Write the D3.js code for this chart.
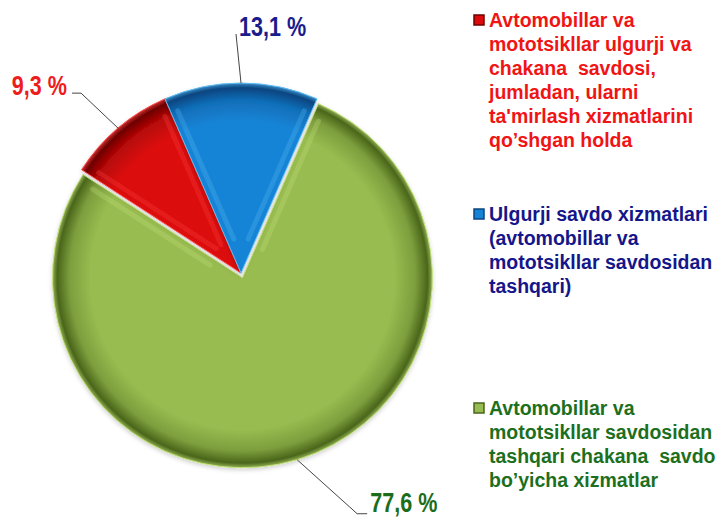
<!DOCTYPE html>
<html>
<head>
<meta charset="utf-8" />
<title>pie</title>
<script src="https://cdn.jsdelivr.net/npm/d3@7"></script>
<style>
  body { margin: 0; background: #fff; }
  svg { display: block; }
  text { white-space: pre; }
</style>
</head>
<body>
<svg width="717" height="520"></svg>
<script>
// data
var categories = [
  "Avtomobillar va mototsikllar savdosidan tashqari chakana savdo bo'yicha xizmatlar",
  "Avtomobillar va mototsikllar ulgurji va chakana savdosi, jumladan, ularni ta'mirlash xizmatlarini qo'shgan holda",
  "Ulgurji savdo xizmatlari (avtomobillar va mototsikllar savdosidan tashqari)"
];
var values = [77.6, 9.3, 13.1];
// legend text, split the same way as the picture
var legendLines = [
  ["Avtomobillar va", "mototsikllar savdosidan", "tashqari chakana  savdo", "bo\u2019yicha xizmatlar"],
  ["Avtomobillar va", "mototsikllar ulgurji va", "chakana  savdosi,", "jumladan, ularni", "ta'mirlash xizmatlarini", "qo\u2019shgan holda"],
  ["Ulgurji savdo xizmatlari", "(avtomobillar va", "mototsikllar savdosidan", "tashqari)"]
];
var legendOrder = [1, 2, 0]; // red, blue, green from top

var colors = {
  base:  ["#98bc50", "#dc0a0a", "#1584d6"],
  light: ["#c4e37c", "#ff4a4a", "#5cbcf4"],
  dark:  ["#4a661a", "#6e0000", "#0a4580"],
  text:  ["#1b6d1b", "#ee1c1c", "#1b1b8c"],
  legend:["#1d6f1d", "#f01414", "#16168a"]
};

var svg = d3.select("svg");
var cx = 241, cy = 273, r = 190, explode = [5, 0, 0];

var total = d3.sum(values);
var start = Math.PI * values[2] / total; // blue centred on the top
var pie = d3.pie().sort(null).value(function(d){ return d; })
  .startAngle(start).endAngle(start + 2 * Math.PI);
var arcs = pie(values);
var arc = d3.arc().innerRadius(0).outerRadius(r);
var rim = d3.arc().innerRadius(r).outerRadius(r);

function mid(d){ return (d.startAngle + d.endAngle) / 2; }
function offset(d, i){
  var a = mid(d);
  return [Math.sin(a) * explode[i], -Math.cos(a) * explode[i]];
}

var defs = svg.append("defs");
arcs.forEach(function(d, i){
  var g = defs.append("radialGradient")
    .attr("id", "grad" + i)
    .attr("gradientUnits", "userSpaceOnUse")
    .attr("cx", 0).attr("cy", 0).attr("r", r);
  g.append("stop").attr("offset", "0").attr("stop-color", colors.base[i]);
  g.append("stop").attr("offset", "0.8").attr("stop-color", colors.base[i]);
  g.append("stop").attr("offset", "0.91").attr("stop-color", d3.interpolateRgb(colors.base[i], colors.dark[i])(0.35));
  g.append("stop").attr("offset", "0.975").attr("stop-color", colors.dark[i]);
  g.append("stop").attr("offset", "1").attr("stop-color", d3.interpolateRgb(colors.dark[i], colors.light[i])(0.6));
});
var f = defs.append("filter").attr("id", "shadow")
  .attr("x", "-10%").attr("y", "-10%").attr("width", "120%").attr("height", "125%");
f.append("feDropShadow").attr("dx", 0).attr("dy", 2).attr("stdDeviation", 2)
  .attr("flood-color", "#000").attr("flood-opacity", 0.18);

var g = svg.append("g").attr("transform", "translate(" + cx + "," + cy + ")");

var slices = g.selectAll(".slice").data(arcs).enter().append("g")
  .attr("class", "slice")
  .attr("transform", function(d, i){ return "translate(" + offset(d, i) + ")"; })
  .attr("filter", "url(#shadow)");

slices.append("path")
  .attr("d", arc)
  .attr("fill", function(d, i){ return "url(#grad" + i + ")"; })
  .attr("stroke", function(d, i){ return colors.light[i]; })
  .attr("stroke-width", 1)
  .attr("stroke-linejoin", "round");

// soft bevel highlight just inside each straight edge
function edgeLine(a, side){
  var inset = 7, ux = Math.sin(a), uy = -Math.cos(a);
  var nx = -uy * side, ny = ux * side; // normal pointing into the slice
  var r0 = 34, r1 = r - 16;
  return [[ux * r0 + nx * inset, uy * r0 + ny * inset], [ux * r1 + nx * inset, uy * r1 + ny * inset]];
}
slices.each(function(d, i){
  var s = d3.select(this);
  [[d.startAngle, 1], [d.endAngle, -1]].forEach(function(e){
    s.append("path")
      .attr("d", d3.line()(edgeLine(e[0], e[1])))
      .attr("stroke", colors.light[i])
      .attr("stroke-opacity", 0.28)
      .attr("stroke-width", 5)
      .attr("stroke-linecap", "round");
  });
});

// value labels with leader lines
var labelLayout = [
  { elbow: [60, 54],  end: [70, 54],  text: [73, 52],  anchor: "start" },
  { elbow: [-37, -35], end: [-46, -35], text: [-51, -33], anchor: "end" },
  { elbow: [-5, -49],  end: [-5, -49],  text: [-2, -47], anchor: "start" }
];

arcs.forEach(function(d, i){
  var o = offset(d, i);
  var p = rim.centroid(d);
  var s = [p[0] + o[0], p[1] + o[1]];
  var L = labelLayout[i];
  g.append("polyline")
    .attr("points", [s, [s[0] + L.elbow[0], s[1] + L.elbow[1]], [s[0] + L.end[0], s[1] + L.end[1]]].join(" "))
    .attr("fill", "none")
    .attr("stroke", "#444")
    .attr("stroke-width", 1);
  // narrow bold face: squeeze the regular bold horizontally
  var tx = s[0] + L.text[0], ty = s[1] + L.text[1];
  g.append("text")
    .attr("transform", "translate(" + tx + "," + ty + ") scale(0.8,1)")
    .attr("text-anchor", L.anchor)
    .attr("font-family", "'Liberation Sans', Arial, sans-serif")
    .attr("font-weight", "bold")
    .attr("font-size", 27)
    .attr("fill", colors.text[i])
    .text(values[i].toFixed(1).replace(".", ",") + " %");
});

// legend
var legendTop = [27, 221, 415];
var legend = svg.append("g");
legendOrder.forEach(function(i, k){
  var y0 = legendTop[k];
  legend.append("rect")
    .attr("x", 474).attr("y", y0 - 12)
    .attr("width", 10).attr("height", 10)
    .attr("fill", colors.base[i])
    .attr("stroke", colors.dark[i])
    .attr("stroke-width", 1.5);
  legend.append("text")
    .attr("x", 489).attr("y", y0)
    .attr("font-family", "'Liberation Sans', Arial, sans-serif")
    .attr("font-weight", "bold")
    .attr("font-size", 19.5)
    .attr("fill", colors.legend[i])
    .selectAll("tspan").data(legendLines[i]).enter().append("tspan")
    .attr("x", 489)
    .attr("dy", function(d, j){ return j === 0 ? 0 : 24; })
    .text(function(d){ return d; });
});
</script>
</body>
</html>
